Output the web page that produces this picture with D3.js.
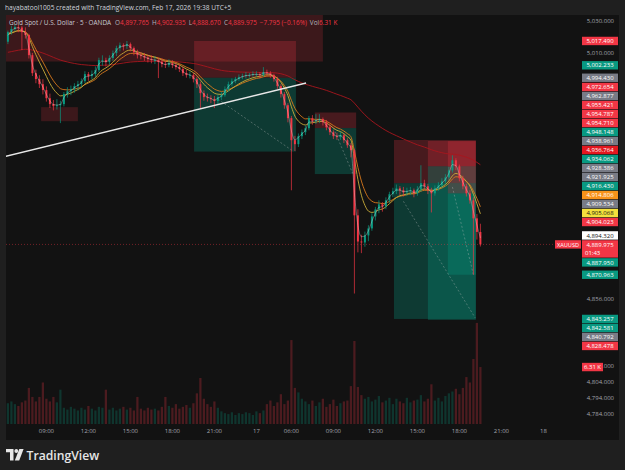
<!DOCTYPE html>
<html>
<head>
<meta charset="utf-8">
<script src="https://d3js.org/d3.v7.min.js"></script>
<style>
  body { margin:0; background:#1f1f1f; }
  svg { display:block; font-family:"Open Sans","Liberation Sans",sans-serif; }
</style>
</head>
<body>
<svg width="625" height="470" id="chart"></svg>
<script>
// 15-min XAUUSD candles [open, high, low, close], bar 0 = 06:15 Feb 16
var candles = [
  [5017.0,5024.0,5015.5,5023.0],[5023.0,5027.0,5021.5,5025.0],[5025.0,5028.0,5023.5,5026.2],[5026.2,5027.5,5023.0,5025.9],
  [5025.9,5027.0,5011.8,5023.0],[5023.0,5026.0,5019.0,5021.2],[5021.2,5022.0,5006.5,5008.6],[5008.6,5010.0,4995.5,4997.3],
  [4997.3,4999.5,4991.0,4993.6],[4993.6,4996.0,4988.0,4990.4],[4990.4,4993.5,4984.0,4986.7],[4986.7,4989.0,4979.5,4981.6],
  [4981.6,4984.5,4975.5,4977.9],[4977.9,4980.5,4974.0,4976.6],[4976.6,4981.0,4974.5,4977.2],[4977.2,4980.0,4966.0,4977.9],
  [4977.9,4985.5,4976.5,4984.2],[4984.2,4988.5,4982.0,4986.0],[4986.0,4989.5,4983.5,4987.3],[4987.3,4991.0,4985.0,4989.2],
  [4989.2,4992.5,4986.5,4990.4],[4990.4,4994.0,4988.5,4992.3],[4992.3,4998.5,4991.0,4996.7],[4996.7,4998.0,4992.5,4995.5],
  [4995.5,4999.0,4993.5,4996.7],[4996.7,5001.5,4995.0,4999.2],[4999.2,5007.0,4998.0,5005.5],[5005.5,5008.5,5002.0,5005.5],
  [5005.5,5007.0,5001.5,5004.3],[5004.3,5008.5,5002.5,5006.8],[5006.8,5011.5,5005.0,5009.9],[5009.9,5014.5,5008.0,5013.0],
  [5013.0,5016.5,5011.0,5014.9],[5014.9,5016.0,5011.5,5014.3],[5014.3,5017.49,5012.5,5015.5],[5015.5,5016.5,5011.0,5013.0],
  [5013.0,5014.0,5008.5,5010.5],[5010.5,5012.0,5006.5,5008.6],[5008.6,5010.5,5006.0,5008.0],[5008.0,5010.0,5005.0,5007.1],
  [5007.1,5009.0,5004.0,5006.1],[5006.1,5008.5,5003.5,5005.5],[5005.5,5008.0,5003.0,5005.5],[5005.5,5007.0,4994.2,5004.3],
  [5004.3,5006.5,5001.0,5003.0],[5003.0,5005.0,5000.5,5002.4],[5002.4,5006.0,5001.0,5003.6],[5003.6,5005.5,5000.5,5002.4],
  [5002.4,5004.0,4999.5,5001.1],[5001.1,5003.0,4998.0,4999.9],[4999.9,5001.5,4995.5,4997.3],[4997.3,4999.5,4994.5,4996.1],
  [4996.1,4998.5,4994.0,4996.1],[4996.1,4997.5,4991.5,4993.6],[4993.6,4995.0,4988.0,4990.4],[4990.4,4992.0,4975.4,4984.8],
  [4984.8,4986.5,4980.0,4982.3],[4982.3,4984.5,4979.5,4981.6],[4981.6,4983.5,4978.5,4981.0],[4981.0,4983.0,4975.4,4979.8],
  [4979.8,4984.0,4978.0,4982.3],[4982.3,4985.5,4980.5,4983.5],[4983.5,4989.0,4982.5,4987.3],[4987.3,4992.0,4986.0,4990.4],
  [4990.4,4994.0,4989.0,4992.3],[4992.3,4995.0,4991.0,4993.6],[4993.6,4996.5,4992.5,4994.8],[4994.8,4997.0,4993.5,4995.5],
  [4995.5,4998.0,4994.0,4996.1],[4996.1,4997.5,4994.5,4996.1],[4996.1,4998.5,4995.0,4996.7],[4996.7,4998.5,4995.0,4996.7],
  [4996.7,4998.0,4994.0,4996.1],[4996.1,5001.1,4995.0,4998.0],[4998.0,4999.5,4995.5,4997.3],[4997.3,4998.5,4994.5,4996.1],
  [4996.1,4997.0,4992.0,4993.6],[4993.6,4995.0,4987.5,4989.2],[4989.2,4990.5,4982.0,4984.2],[4984.2,4985.5,4975.0,4977.2],
  [4977.2,4978.5,4966.5,4969.1],[4969.1,4970.5,4923.9,4955.3],[4955.3,4958.0,4948.5,4952.8],[4952.8,4959.5,4951.0,4957.8],
  [4957.8,4962.0,4956.0,4960.3],[4960.3,4964.5,4958.5,4962.8],[4962.8,4970.5,4961.5,4969.1],[4969.1,4971.0,4965.0,4967.2],
  [4967.2,4971.6,4965.5,4967.8],[4967.8,4971.6,4966.0,4968.5],[4968.5,4969.5,4964.5,4966.6],[4966.6,4968.0,4961.5,4963.4],
  [4963.4,4965.0,4958.5,4960.3],[4960.3,4961.5,4956.0,4957.8],[4957.8,4960.0,4955.5,4957.2],[4957.2,4960.5,4955.5,4958.4],
  [4958.4,4959.5,4953.5,4955.3],[4955.3,4956.5,4950.5,4952.1],[4952.1,4953.5,4944.5,4949.0],[4949.0,4950.0,4859.2,4908.2],
  [4908.2,4912.0,4885.0,4891.8],[4891.8,4896.0,4884.5,4891.2],[4891.2,4898.0,4888.5,4895.6],[4895.6,4902.0,4892.0,4900.0],
  [4900.0,4909.5,4898.5,4907.5],[4907.5,4913.5,4905.0,4911.9],[4911.9,4917.6,4909.5,4915.1],[4915.1,4916.5,4910.5,4913.8],
  [4913.8,4919.5,4912.0,4917.6],[4917.6,4923.0,4916.0,4921.4],[4921.4,4925.5,4919.5,4923.3],[4923.3,4927.5,4921.5,4925.1],
  [4925.1,4926.5,4921.0,4923.9],[4923.9,4926.0,4920.0,4922.6],[4922.6,4925.5,4920.5,4923.3],[4923.3,4926.0,4921.0,4923.9],
  [4923.9,4925.0,4919.5,4922.0],[4922.0,4926.5,4920.5,4924.5],[4924.5,4939.6,4923.0,4928.3],[4928.3,4930.5,4924.0,4926.4],
  [4926.4,4928.0,4921.5,4923.9],[4923.9,4925.5,4910.0,4922.0],[4922.0,4927.0,4920.5,4925.1],[4925.1,4929.0,4923.5,4927.0],
  [4927.0,4931.5,4925.5,4929.5],[4929.5,4934.0,4928.0,4932.0],[4932.0,4938.5,4930.5,4936.4],[4936.4,4945.8,4935.0,4942.7],
  [4942.7,4944.0,4936.5,4938.9],[4938.9,4940.0,4929.5,4931.4],[4931.4,4933.0,4924.5,4926.4],[4926.4,4928.0,4920.0,4922.0],
  [4922.0,4924.0,4915.5,4917.6],[4917.6,4919.5,4870.96,4906.3],[4906.3,4909.0,4893.0,4897.8],[4897.765,4902.935,4888.670,4889.975]
];

// volume per bar, thousands
var volumes = [
  2.3,2.5,2.2,2.0,2.4,2.6, 4.0,3.0,2.5,3.0,4.6,2.8,2.5,3.0,2.4,3.8,
  1.8,1.6,1.9,1.7,1.5,1.8,1.6,2.0,1.7,1.5,1.9,1.8, 3.8,
  1.6,1.8,1.5,1.7,1.9,1.6,1.8,1.5, 3.0, 1.7,1.5,1.8,1.6,1.7,1.5,1.9, 3.0,
  2.0,1.8,2.2,1.7,1.9,2.1,1.8, 2.3,3.4,5.1, 2.8,2.2,1.9,2.5,1.8,
  1.4,1.2,1.1,1.3,1.0,1.2,1.1,1.3,1.2,1.0,1.4,1.2,1.5,
  2.2,2.6,2.0,2.4,3.3,2.2,2.6, 9.3, 4.0,3.5,2.8,2.5,
  2.2,2.6,2.0,2.4,2.8,1.9,2.2,2.7,2.0,2.3,2.5,2.6, 4.2,9.2,4.1,
  3.2,2.8,3.0,2.5,2.7,3.1,2.4,2.6,2.9,2.2,2.8,2.5,2.3,2.9,2.4,2.6,
  2.7,3.2,2.5,2.8, 4.4, 2.6,2.9,2.5,3.1,3.4, 3.6,3.9,3.3,4.0, 5.2,4.6,7.2,11.2,6.31
];

var timeTickBars = [11,23,35,47,59,71,81,93,105,117,129,141,153];
var timeTickLabels = ["09:00","12:00","15:00","18:00","21:00","17","06:00","09:00","12:00","15:00","18:00","21:00","18"];
var priceTicks = [5030, 5010, 4856, 4814, 4804, 4794, 4784];

// EMA lines
var maPeriods = [2, 7, 10, 67];
var maSeeds = [5017.0, 5021.0, 5022.0, 5010.0];

// position tools: [startBar, endBar, stop, entry, target]
var positionTools = [
  [53.2, 82.3, 5017.490, 4994.430, 4948.148],
  [87.7, 99.5, 4972.654, 4962.877, 4934.062],
  [110.3, 133.7, 4955.421, 4928.386, 4843.257],
  [120.0, 133.7, 4954.787, 4938.961, 4842.581],
  [125.7, 133.7, 4954.710, 4921.925, 4870.963]
];
var toolPaths = [
  [[60, 4981.0], [81.5, 4948.4]],
  [[93, 4963.0], [98.5, 4934.5]],
  [[113, 4917.0], [133.5, 4844.0]],
  [[127, 4926.0], [133, 4871.0]]
];
// shaded zones: [startBar, endBar, top, bottom]
var zones = [
  [-3, 90.0, 5045, 5004.6],
  [9.5, 20.0, 4976.0, 4967.2]
];
var trendLine = [[-0.6, 4945.2], [85.2, 4991.1]];

var lastPrice = 4889.975, lastVolume = 6.31;
var axisLabels = [
  [5017.490,"red"],[5002.233,"green"],[4994.430,"grey"],[4972.654,"red"],
  [4962.877,"grey"],[4955.421,"red"],[4954.787,"red"],[4954.710,"red"],
  [4948.148,"green"],[4938.961,"grey"],[4936.764,"ma"],[4934.062,"green"],
  [4928.386,"grey"],[4921.925,"grey"],[4916.430,"green"],[4914.806,"orange"],
  [4909.534,"grey"],[4905.068,"yellow"],[4904.023,"red"],[4894.320,"white"],
  [4887.950,"green"],[4870.963,"green"],[4843.257,"green"],[4842.581,"green"],
  [4840.792,"grey"],[4828.478,"red"]
];

var UP = "#089981", DOWN = "#f23645";
var labelFill = {red:"#f23645", green:"#089981", grey:"#787b86", ma:"#e3171f",
                 orange:"#f7931a", yellow:"#f3e03c", white:"#ffffff"};
var maColors = ["rgba(225,225,225,0.5)", "#c9ad3a", "#d9791c", "#a8151d"];

var svg = d3.select("#chart");
var pane = {left: 6, right: 555, top: 15, bottom: 424};

svg.append("rect").attr("x", 6).attr("y", 15).attr("width", 613).attr("height", 425).attr("fill", "#121212");

var x = d3.scaleLinear().domain([0, 156]).range([7.9, 553.9]);
var y = d3.scaleLinear().domain([4784, 5030]).range([413.5, 21]);
var yv = d3.scaleLinear().domain([0, 11.3]).range([424, 322]);
var bw = x(1) - x(0);

svg.append("defs").append("clipPath").attr("id", "paneClip")
  .append("rect").attr("x", pane.left).attr("y", pane.top)
  .attr("width", pane.right - pane.left).attr("height", pane.bottom - pane.top);
var g = svg.append("g").attr("clip-path", "url(#paneClip)");

// zones and position tools
g.selectAll(".zone").data(zones).enter().append("rect")
  .attr("x", function(d) { return x(d[0]); })
  .attr("width", function(d) { return x(d[1]) - x(d[0]); })
  .attr("y", function(d) { return y(d[2]); })
  .attr("height", function(d) { return y(d[3]) - y(d[2]); })
  .attr("fill", "rgba(242,54,69,0.19)");

positionTools.forEach(function(t) {
  g.append("rect").attr("x", x(t[0])).attr("width", x(t[1]) - x(t[0]))
    .attr("y", y(t[2])).attr("height", y(t[3]) - y(t[2]))
    .attr("fill", "rgba(242,54,69,0.24)");
  g.append("rect").attr("x", x(t[0])).attr("width", x(t[1]) - x(t[0]))
    .attr("y", y(t[3])).attr("height", y(t[4]) - y(t[3]))
    .attr("fill", "rgba(8,153,129,0.3)");
});
g.selectAll(".tpath").data(toolPaths).enter().append("line")
  .attr("x1", function(d) { return x(d[0][0]); }).attr("y1", function(d) { return y(d[0][1]); })
  .attr("x2", function(d) { return x(d[1][0]); }).attr("y2", function(d) { return y(d[1][1]); })
  .attr("stroke", "rgba(190,190,190,0.45)").attr("stroke-width", 0.8).attr("stroke-dasharray", "2,2");

// volume
g.selectAll(".vol").data(volumes).enter().append("rect")
  .attr("x", function(d, i) { return x(i) - bw * 0.32; })
  .attr("width", bw * 0.64)
  .attr("y", function(d) { return yv(d); })
  .attr("height", function(d) { return yv(0) - yv(d); })
  .attr("fill", function(d, i) { return candles[i][3] >= candles[i][0] ? "rgba(8,153,129,0.26)" : "rgba(242,54,69,0.26)"; });

// last price line
g.append("line").attr("x1", pane.left).attr("x2", pane.right)
  .attr("y1", y(lastPrice)).attr("y2", y(lastPrice))
  .attr("stroke", "rgba(242,54,69,0.55)").attr("stroke-width", 0.8).attr("stroke-dasharray", "1,2");

// moving averages
var closes = candles.map(function(d) { return d[3]; });
function ema(vals, period, seed) {
  var k = 2 / (period + 1), prev = seed;
  return vals.map(function(v) { prev = prev + k * (v - prev); return prev; });
}
var line = d3.line().x(function(d, i) { return x(i); }).y(function(d) { return y(d); }).curve(d3.curveMonotoneX);
[3, 2, 1].forEach(function(m) {
  g.append("path").attr("d", line(ema(closes, maPeriods[m], maSeeds[m])))
    .attr("fill", "none").attr("stroke", maColors[m]).attr("stroke-width", 0.9);
});

// candles
var c = g.selectAll(".candle").data(candles).enter().append("g");
c.append("line")
  .attr("x1", function(d, i) { return x(i); }).attr("x2", function(d, i) { return x(i); })
  .attr("y1", function(d) { return y(d[1]); }).attr("y2", function(d) { return y(d[2]); })
  .attr("stroke", function(d) { return d[3] >= d[0] ? UP : DOWN; }).attr("stroke-width", 0.7);
c.append("rect")
  .attr("x", function(d, i) { return x(i) - bw * 0.28; })
  .attr("width", bw * 0.56)
  .attr("y", function(d) { return y(Math.max(d[0], d[3])); })
  .attr("height", function(d) { return Math.max(0.8, Math.abs(y(d[0]) - y(d[3]))); })
  .attr("fill", function(d) { return d[3] >= d[0] ? UP : DOWN; });

g.append("path").attr("d", line(ema(closes, maPeriods[0], maSeeds[0])))
  .attr("fill", "none").attr("stroke", maColors[0]).attr("stroke-width", 0.7);

// trend line
g.append("line").attr("x1", x(trendLine[0][0])).attr("y1", y(trendLine[0][1]))
  .attr("x2", x(trendLine[1][0])).attr("y2", y(trendLine[1][1]))
  .attr("stroke", "#e8e8e8").attr("stroke-width", 1.5);

// time axis
svg.selectAll(".tt").data(timeTickBars).enter().append("text")
  .attr("x", function(d) { return x(d); }).attr("y", 432.5)
  .attr("text-anchor", "middle").attr("font-size", 6).attr("fill", "#a3a6af")
  .text(function(d, i) { return timeTickLabels[i]; });

// price ticks
svg.selectAll(".pt").data(priceTicks).enter().append("text")
  .attr("x", 614).attr("y", function(d) { return y(d) + 2; })
  .attr("text-anchor", "end").attr("font-size", 6).attr("fill", "#a3a6af")
  .text(function(d) { return d3.format(",.3f")(d); });

// axis labels: last price pinned, others pushed away
var LH = 9;
var lastTop = y(lastPrice) - LH / 2;
var above = axisLabels.filter(function(d) { return d[0] > lastPrice; }).sort(function(a, b) { return a[0] - b[0]; });
var below = axisLabels.filter(function(d) { return d[0] < lastPrice; }).sort(function(a, b) { return b[0] - a[0]; });
var placed = [];
var limit = lastTop;
above.forEach(function(d) {
  var cy = Math.min(y(d[0]), limit - LH / 2);
  placed.push({v: d[0], kind: d[1], cy: cy});
  limit = cy - LH / 2;
});
limit = lastTop + 2 * LH;
below.forEach(function(d) {
  var cy = Math.max(y(d[0]), limit + LH / 2);
  placed.push({v: d[0], kind: d[1], cy: cy});
  limit = cy + LH / 2;
});

var lab = svg.selectAll(".lab").data(placed).enter().append("g");
lab.append("rect").attr("x", 582).attr("width", 36)
  .attr("y", function(d) { return d.cy - LH / 2 + 0.3; }).attr("height", LH - 0.6)
  .attr("fill", function(d) { return labelFill[d.kind]; });
lab.append("text").attr("x", 600).attr("y", function(d) { return d.cy + 2.1; })
  .attr("text-anchor", "middle").attr("font-size", 6)
  .attr("fill", function(d) { return (d.kind === "yellow" || d.kind === "white") ? "#131313" : "#ffffff"; })
  .text(function(d) { return d3.format(",.3f")(d.v); });

// last price label
svg.append("rect").attr("x", 582).attr("width", 36).attr("y", lastTop + 0.3).attr("height", 2 * LH - 0.6).attr("fill", DOWN);
svg.append("text").attr("x", 600).attr("y", lastTop + 6.6).attr("text-anchor", "middle")
  .attr("font-size", 6).attr("fill", "#fff").text(d3.format(",.3f")(lastPrice));
svg.append("text").attr("x", 585).attr("y", lastTop + 15.4)
  .attr("font-size", 6).attr("fill", "#fff").text("01:43");
svg.append("rect").attr("x", 555).attr("width", 26).attr("y", lastTop + 0.3).attr("height", LH - 0.6).attr("fill", DOWN);
svg.append("text").attr("x", 568).attr("y", lastTop + 6.6).attr("text-anchor", "middle")
  .attr("font-size", 5.6).attr("fill", "#fff").text("XAUUSD");

// volume label
svg.append("rect").attr("x", 582).attr("width", 21).attr("y", yv(lastVolume) - 4.2).attr("height", 8.4).attr("fill", DOWN);
svg.append("text").attr("x", 592.5).attr("y", yv(lastVolume) + 2.1).attr("text-anchor", "middle")
  .attr("font-size", 6).attr("fill", "#fff").text(lastVolume + " K");

// header and legend
svg.append("text").attr("x", 5).attr("y", 9.5).attr("font-size", 6.6).attr("fill", "#d1d4dc")
  .text("hayabatool1005 created with TradingView.com, Feb 17, 2026 19:38 UTC+5");

var last = candles[candles.length - 1];
var legend = svg.append("text").attr("x", 9).attr("y", 24.5).attr("font-size", 6.4).attr("fill", "#c8cbd3");
legend.append("tspan").text("Gold Spot / U.S. Dollar \u00b7 5 \u00b7 OANDA");
var fmt = d3.format(",.3f");
[["O", last[0]], ["H", last[1]], ["L", last[2]], ["C", last[3]]].forEach(function(p, i) {
  legend.append("tspan").attr("dx", i === 0 ? 4 : 3).attr("fill", "#b2b5be").text(p[0]);
  legend.append("tspan").attr("fill", DOWN).text(fmt(p[1]));
});
legend.append("tspan").attr("dx", 3).attr("fill", DOWN).text("\u22127.795 (\u22120.16%)");
legend.append("tspan").attr("dx", 3).attr("fill", "#b2b5be").text("Vol");
legend.append("tspan").attr("fill", DOWN).text("6.31 K");

// footer logo
var logo = svg.append("g").attr("fill", "#e6e6e6");
logo.append("path").attr("d", "M6,449 H13.5 V460.5 H10 V452.3 H6 Z");
logo.append("circle").attr("cx", 16.3).attr("cy", 451).attr("r", 1.9);
logo.append("path").attr("d", "M19.3,449 H23.6 L19.2,460.5 H14.8 Z");
svg.append("text").attr("x", 26.5).attr("y", 459.8).attr("font-size", 12.2).attr("font-weight", 600)
  .attr("fill", "#e6e6e6").text("TradingView");
</script>
</body>
</html>
